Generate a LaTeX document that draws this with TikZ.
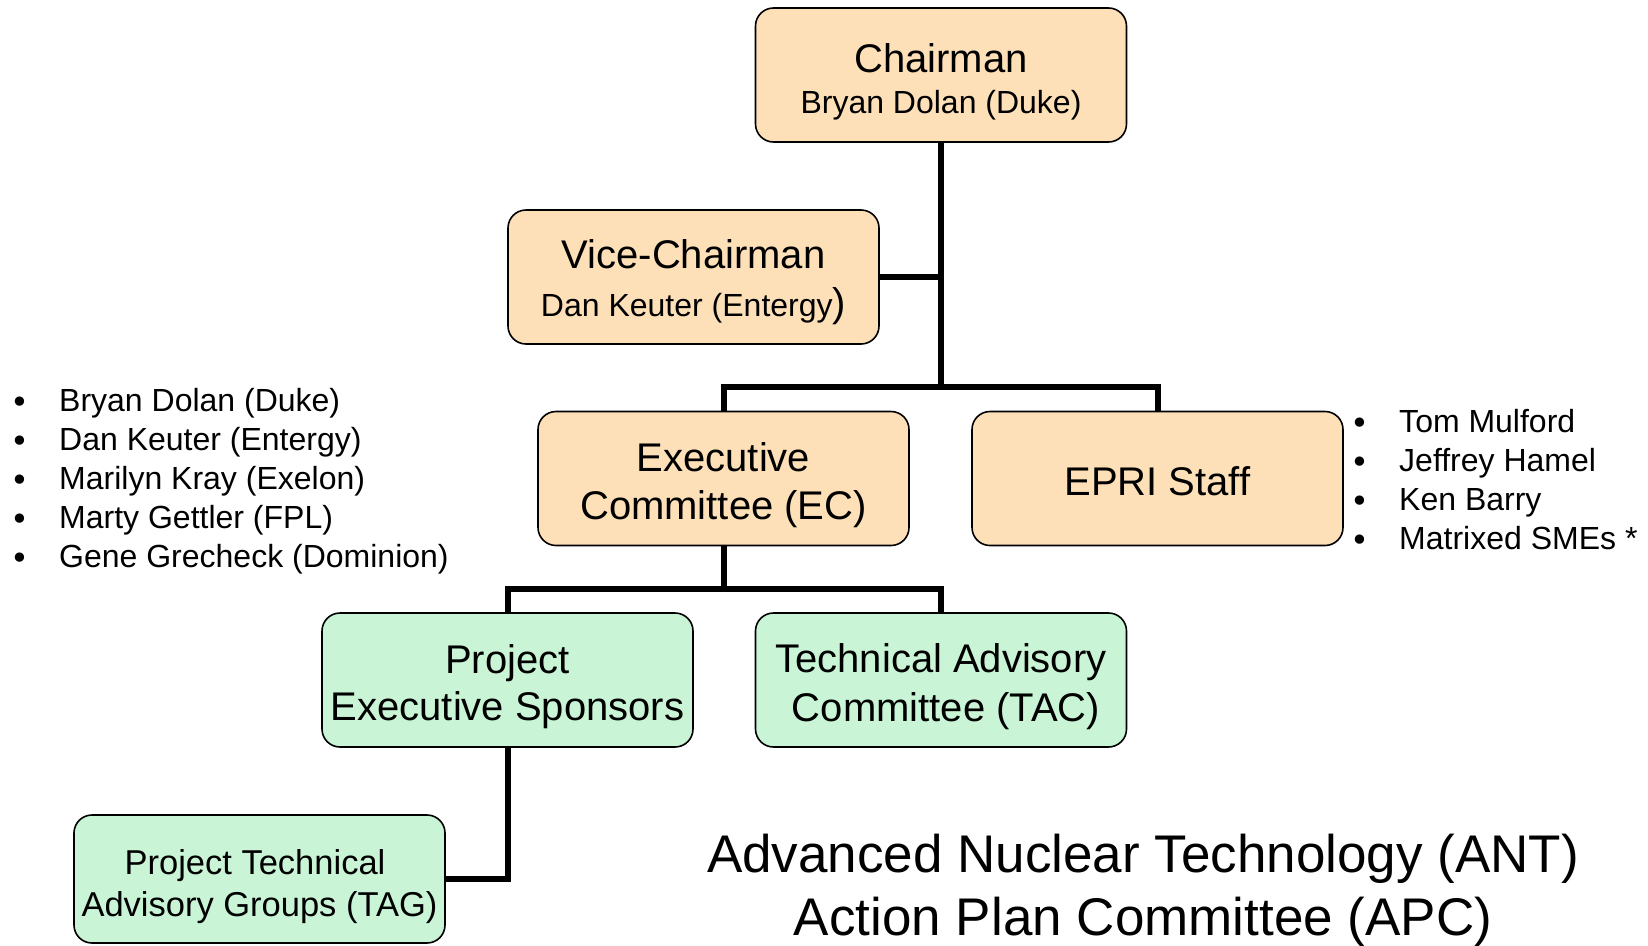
\documentclass[tikz,border=0pt]{standalone}
\usepackage{fontspec}
\setmainfont{Liberation Sans}
\newfontfamily\djv{DejaVu Sans}
\usetikzlibrary{calc}
\definecolor{peach}{HTML}{FDDFB8}
\definecolor{mint}{HTML}{C9F5D6}
\newcommand{\fsz}[1]{\fontsize{#1}{#1}\selectfont}
\newcommand{\lbul}{\makebox[45.6pt][l]{\hspace{-3pt}\raisebox{-2pt}{\djv •}}}
\begin{document}
\begin{tikzpicture}[x=1pt,y=-1pt,
  box/.style={draw=black, line width=1.6pt, rounded corners=18pt, minimum width=371pt, minimum height=134pt, inner sep=0pt},
  obox/.style={box, fill=peach},
  gbox/.style={box, fill=mint},
  bigt/.style={font=\fsz{40}, inner sep=0pt, anchor=base},
  smallt/.style={font=\fsz{32}, inner sep=0pt, anchor=base},
  tagt/.style={font=\fsz{34.5}, inner sep=0pt, anchor=base},
  titlet/.style={font=\fsz{53}, inner sep=0pt, anchor=base},
  listt/.style={font=\fontsize{32}{39}\selectfont, inner sep=0pt, align=left, anchor=base west},
  link/.style={line width=6pt, line join=miter, draw=black}
]
\useasboundingbox (0,0) rectangle (1648,945);
% boxes
\node[obox] (chair) at (941,75) {};
\node[obox] (vc) at (693.5,277) {};
\node[obox] (ec) at (723.5,478.5) {};
\node[obox] (epri) at (1157.5,478.5) {};
\node[gbox] (pes) at (507.5,680) {};
\node[gbox] (tac) at (941,680) {};
\node[gbox, minimum height=128pt] (tag) at (259.5,879) {};
% junctions
\coordinate (bar1) at (941,387);
\coordinate (bar2) at (723.5,589);
% connectors
\draw[link] (chair.south) -- (bar1);
\draw[link] (vc.east) -- (vc.east -| bar1);
\draw[link] (ec.north) -- (ec.north |- bar1) -- (epri.north |- bar1) -- (epri.north);
\draw[link] (ec.south) -- (bar2);
\draw[link] (pes.north) -- (pes.north |- bar2) -- (tac.north |- bar2) -- (tac.north);
\draw[link] (pes.south) |- (tag.east);
% texts
\node[bigt] (chairA) at (941,72.7) {Chairman};
\node[smallt] (chairB) at (941,113.3) {Bryan Dolan (Duke)};
\node[bigt] (vcA) at (693.5,268) {Vice-Chairman};
\node[smallt] (vcB) at (693.5,316) {Dan Keuter (Entergy{\fsz{40})}};
\node[bigt] (ecA) at (723.5,471) {Executive};
\node[bigt] (ecB) at (723.5,519) {Committee (EC)};
\node[bigt] (epriA) at (1157.5,495) {EPRI Staff};
\node[bigt] (pesA) at (507.5,673) {Project};
\node[bigt] (pesB) at (507.5,720) {Executive Sponsors};
\node[bigt] (tacA) at (941,672) {Technical Advisory};
\node[bigt] (tacB) at (946,721) {Committee (TAC)};
\node[tagt] (tagA) at (255,874) {Project Technical};
\node[tagt] (tagB) at (259.5,916) {Advisory Groups (TAG)};
\node[titlet] (titA) at (1143,872) {Advanced Nuclear Technology (ANT)};
\node[titlet] (titB) at (1143,935) {Action Plan Committee (APC)};
% lists (base anchor = last line)
\node[listt] (leftlist) at (13.4,567) {\lbul Bryan Dolan (Duke)\\ \lbul Dan Keuter (Entergy)\\ \lbul Marilyn Kray (Exelon)\\ \lbul Marty Gettler (FPL)\\ \lbul Gene Grecheck (Dominion)};
\node[listt] (rightlist) at (1353.4,549) {\lbul Tom Mulford\\ \lbul Jeffrey Hamel\\ \lbul Ken Barry\\ \lbul Matrixed SMEs *};
\end{tikzpicture}
\end{document}
